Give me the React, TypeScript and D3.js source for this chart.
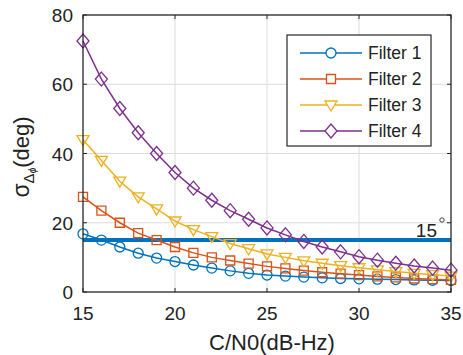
import * as React from 'react';
import * as d3 from 'd3';

const cn0 = d3.range(15, 36);
const filter1 = [16.8, 15, 13, 11.2, 9.8, 8.8, 7.8, 6.9, 6.1, 5.4, 4.9, 4.6, 4.3, 4.1, 3.9, 3.8, 3.7, 3.6, 3.5, 3.4, 3.3];
const filter2 = [27.5, 23.5, 20, 17, 15, 13, 11.3, 10, 9.1, 8.2, 7.4, 6.8, 6.2, 5.7, 5.3, 4.9, 4.5, 4.2, 3.9, 3.7, 3.5];
const filter3 = [44, 38, 32, 27.5, 24, 20.5, 18, 16, 14, 12.5, 11, 10, 9, 8.3, 7.6, 7, 6.4, 5.9, 5.4, 5.0, 4.6];
const filter4 = [72.5, 61.5, 53, 46, 40, 34.5, 30, 26.5, 23.5, 21, 18.5, 16.5, 14.6, 13, 11.6, 10.2, 9.2, 8.3, 7.5, 6.9, 6.3];
const threshold = 15;
const xTicks = [15, 20, 25, 30, 35];
const yTicks = [0, 20, 40, 60, 80];

type Marker = 'circle' | 'square' | 'triangle' | 'diamond';
const SERIES: { name: string; color: string; marker: Marker; values: number[] }[] = [
  { name: 'Filter 1', color: '#0072BD', marker: 'circle', values: filter1 },
  { name: 'Filter 2', color: '#D95319', marker: 'square', values: filter2 },
  { name: 'Filter 3', color: '#EDB120', marker: 'triangle', values: filter3 },
  { name: 'Filter 4', color: '#7E2F8E', marker: 'diamond', values: filter4 },
];

const FONT = '"Liberation Sans", Arial, Helvetica, sans-serif';

function markerPath(m: Marker) {
  switch (m) {
    case 'circle':
      return 'M5,0A5,5 0 1,1 -5,0A5,5 0 1,1 5,0Z';
    case 'square':
      return 'M-4.5,-4.5H4.5V4.5H-4.5Z';
    case 'triangle':
      return 'M-6,-4H6L0,6Z';
    case 'diamond':
      return 'M0,-7L6,0L0,7L-6,0Z';
  }
}

export default function App() {
  const width = 463;
  const height = 355;
  const margin = { left: 83, right: 12, top: 15, bottom: 63 };

  const x = d3.scaleLinear().domain([15, 35]).range([margin.left, width - margin.right]);
  const y = d3.scaleLinear().domain([0, 80]).range([height - margin.bottom, margin.top]);

  const line = d3
    .line<number>()
    .x((_, i) => x(cn0[i]))
    .y((d) => y(d));

  const x0 = x(15);
  const x1 = x(35);
  const y0 = y(0);
  const y1 = y(80);

  return (
    <svg width={width} height={height} style={{ position: 'absolute', left: 0, top: 0, background: '#fff' }}>
      {/* grid */}
      {xTicks.slice(1, -1).map((t) => (
        <line key={'gx' + t} x1={x(t)} x2={x(t)} y1={y0} y2={y1} stroke="#dcdcdc" strokeWidth={1} />
      ))}
      {yTicks.slice(1, -1).map((t) => (
        <line key={'gy' + t} x1={x0} x2={x1} y1={y(t)} y2={y(t)} stroke="#dcdcdc" strokeWidth={1} />
      ))}

      {/* 15 deg line */}
      <line x1={x0} x2={x1} y1={y(threshold)} y2={y(threshold)} stroke="#0072BD" strokeWidth={4} />

      {SERIES.map((s) => (
        <g key={s.name}>
          <path d={line(s.values) || ''} fill="none" stroke={s.color} strokeWidth={1.5} />
          {s.values.map((v, i) => (
            <path
              key={i}
              d={markerPath(s.marker)}
              transform={`translate(${x(cn0[i])},${y(v)})`}
              fill="none"
              stroke={s.color}
              strokeWidth={1.3}
            />
          ))}
        </g>
      ))}

      <text x={437} y={y(threshold) - 3} textAnchor="end" fontFamily={FONT} fontSize={19} fill="#222">
        15
      </text>
      <circle cx={442} cy={220} r={2.2} fill="none" stroke="#444" strokeWidth={1} />

      {/* axes box */}
      <rect x={x0} y={y1} width={x1 - x0} height={y0 - y1} fill="none" stroke="#262626" strokeWidth={1.3} />
      {xTicks.map((t) => (
        <g key={'tx' + t}>
          <line x1={x(t)} x2={x(t)} y1={y0} y2={y0 - 4} stroke="#262626" />
          <line x1={x(t)} x2={x(t)} y1={y1} y2={y1 + 4} stroke="#262626" />
          <text x={x(t)} y={y0 + 28} textAnchor="middle" fontFamily={FONT} fontSize={19} fill="#222">
            {t}
          </text>
        </g>
      ))}
      {yTicks.map((t) => (
        <g key={'ty' + t}>
          <line x1={x0} x2={x0 + 4} y1={y(t)} y2={y(t)} stroke="#262626" />
          <line x1={x1} x2={x1 - 4} y1={y(t)} y2={y(t)} stroke="#262626" />
          <text x={x0 - 10} y={y(t) + 7} textAnchor="end" fontFamily={FONT} fontSize={19} fill="#222">
            {t}
          </text>
        </g>
      ))}

      {/* axis labels */}
      <text x={272} y={350} textAnchor="middle" fontFamily={FONT} fontSize={22} fill="#222">
        C/N0(dB-Hz)
      </text>
      <text transform="translate(29,157) rotate(-90)" textAnchor="middle" fontFamily={FONT} fill="#222">
        <tspan fontSize={23}>σ</tspan>
        <tspan fontSize={15} dy={5}>Δ</tspan>
        <tspan fontSize={10} fontStyle="italic" dy={2}>ϕ</tspan>
        <tspan fontSize={22} dy={-7}>(deg)</tspan>
      </text>

      {/* legend */}
      <g transform="translate(287,35)">
        <rect width={144} height={111} fill="#fff" stroke="#262626" strokeWidth={1.2} />
        {SERIES.map((s, i) => (
          <g key={s.name} transform={`translate(0,${18 + i * 26})`}>
            <line x1={13} x2={75} y1={0} y2={0} stroke={s.color} strokeWidth={1.5} />
            <path d={markerPath(s.marker)} transform="translate(44,0)" fill="#fff" stroke={s.color} strokeWidth={1.3} />
            <text x={81} y={6} fontFamily={FONT} fontSize={17.5} fill="#222">
              {s.name}
            </text>
          </g>
        ))}
      </g>
    </svg>
  );
}
